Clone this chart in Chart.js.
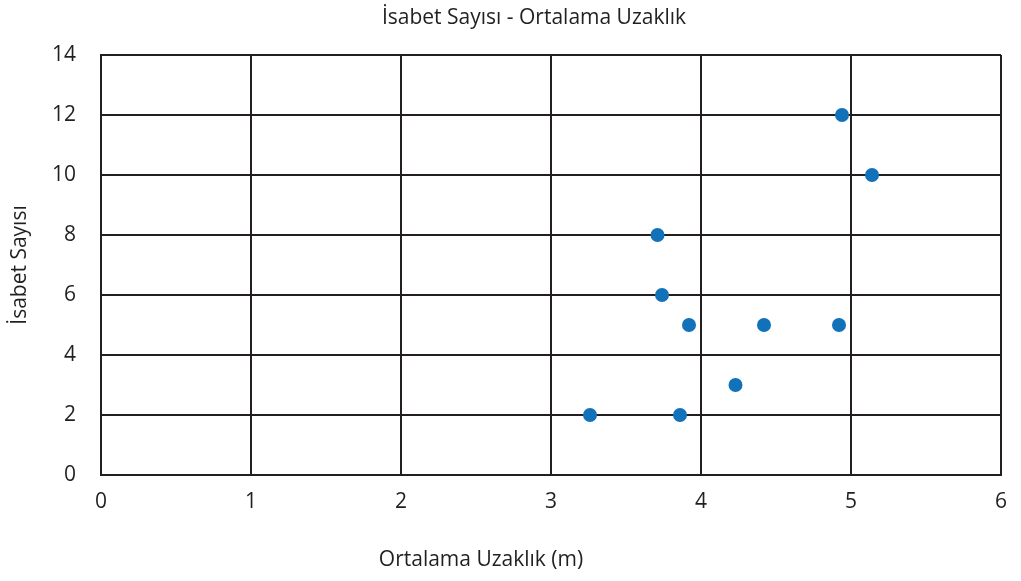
<!DOCTYPE html>
<html lang="tr">
<head>
<meta charset="utf-8">
<title>İsabet Sayısı - Ortalama Uzaklık</title>
<script src="https://cdn.jsdelivr.net/npm/chart.js@4/dist/chart.umd.min.js"></script>
<style>
    html, body { margin: 0; padding: 0; background: #ffffff; }
    #wrap { width: 1021px; height: 581px; position: relative; }
</style>
</head>
<body>
<div id="wrap"><canvas id="scatterChart"></canvas></div>
<script>
// Ortalama uzaklık (m) ve isabet sayısı ölçümleri
const distances = [3.26, 3.86, 4.23, 3.92, 4.42, 4.92, 3.74, 3.71, 5.14, 4.94];
const hits = [2, 2, 3, 5, 5, 5, 6, 8, 10, 12];

const xTicks = [0, 1, 2, 3, 4, 5, 6];
const yTicks = [0, 2, 4, 6, 8, 10, 12, 14];

const chartTitle = 'İsabet Sayısı - Ortalama Uzaklık';
const xTitle = 'Ortalama Uzaklık (m)';
const yTitle = 'İsabet Sayısı';

const theme = {
    point: '#1172b9',
    ink: '#231f20',
    text: '#231f20',
    font: "'Open Sans', 'Noto Sans', sans-serif"
};

const points = distances.map((d, i) => ({ x: d, y: hits[i] }));

// Başlık ve eksen adları: serbest konumlu metinler
const captions = {
    id: 'captions',
    afterDraw(chart) {
        const ctx = chart.ctx;
        const area = chart.chartArea;
        ctx.save();
        ctx.fillStyle = theme.text;
        ctx.textAlign = 'center';
        ctx.textBaseline = 'middle';
        ctx.font = `21px ${theme.font}`;

        ctx.fillText(chartTitle, area.left + 433, 18);
        ctx.fillText(xTitle, area.left + 380, 560);

        ctx.translate(20, 265);
        ctx.rotate(-Math.PI / 2);
        ctx.fillText(yTitle, 0, 0);
        ctx.restore();
    }
};

new Chart(document.getElementById('scatterChart'), {
    type: 'scatter',
    data: {
        datasets: [{
            label: yTitle,
            data: points,
            backgroundColor: theme.point,
            borderColor: theme.point,
            borderWidth: 0,
            pointRadius: 7,
            pointHoverRadius: 7
        }]
    },
    plugins: [captions],
    options: {
        responsive: true,
        maintainAspectRatio: false,
        animation: false,
        layout: { padding: { left: 0, right: 16, top: 55, bottom: 0 } },
        plugins: {
            legend: { display: false },
            tooltip: { enabled: false },
            title: { display: false }
        },
        scales: {
            x: {
                type: 'linear',
                min: xTicks[0],
                max: xTicks[xTicks.length - 1],
                afterBuildTicks: (scale) => { scale.ticks = xTicks.map(v => ({ value: v })); },
                afterFit: (scale) => { scale.height = 106; },
                grid: { color: theme.ink, lineWidth: 2, drawTicks: false },
                border: { color: theme.ink, width: 2 },
                ticks: {
                    color: theme.text,
                    padding: 14,
                    font: { family: theme.font, size: 21 }
                }
            },
            y: {
                type: 'linear',
                min: yTicks[0],
                max: yTicks[yTicks.length - 1],
                afterBuildTicks: (scale) => { scale.ticks = yTicks.map(v => ({ value: v })); },
                afterFit: (scale) => { scale.width = 101; },
                grid: { color: theme.ink, lineWidth: 2, drawTicks: false },
                border: { color: theme.ink, width: 2 },
                ticks: {
                    color: theme.text,
                    padding: 25,
                    font: { family: theme.font, size: 21 }
                }
            }
        }
    }
});
</script>
</body>
</html>
